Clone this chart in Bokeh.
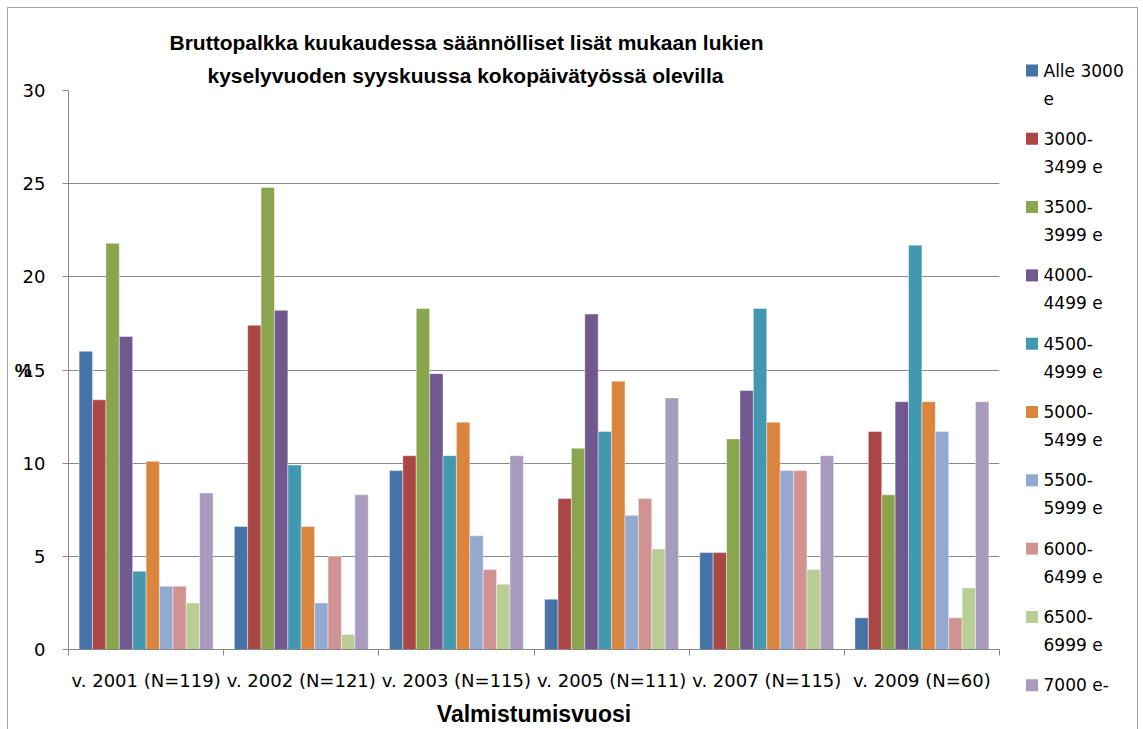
from bokeh.plotting import figure
from bokeh.layouts import row
from bokeh.models import (ColumnDataSource, FixedTicker, Title, Range1d,
                          InlineStyleSheet)
from bokeh.core.properties import value
from bokeh.transform import dodge
from bokeh.embed import file_html
from bokeh.resources import INLINE

categories = ["v. 2001 (N=119)", "v. 2002 (N=121)", "v. 2003 (N=115)",
              "v. 2005 (N=111)", "v. 2007 (N=115)", "v. 2009 (N=60)"]
series_names = ["Alle 3000\ne", "3000-\n3499 e", "3500-\n3999 e", "4000-\n4499 e",
                "4500-\n4999 e", "5000-\n5499 e", "5500-\n5999 e", "6000-\n6499 e",
                "6500-\n6999 e", "7000 e-"]
colors = ["#4572A7", "#AA4643", "#89A54E", "#71588F", "#4198AF",
          "#DB843D", "#93A9CF", "#D19392", "#B9CD96", "#A99BBD"]

alle_3000 = [16.0, 6.6, 9.6, 2.7, 5.2, 1.7]
s3000_3499 = [13.4, 17.4, 10.4, 8.1, 5.2, 11.7]
s3500_3999 = [21.8, 24.8, 18.3, 10.8, 11.3, 8.3]
s4000_4499 = [16.8, 18.2, 14.8, 18.0, 13.9, 13.3]
s4500_4999 = [4.2, 9.9, 10.4, 11.7, 18.3, 21.7]
s5000_5499 = [10.1, 6.6, 12.2, 14.4, 12.2, 13.3]
s5500_5999 = [3.4, 2.5, 6.1, 7.2, 9.6, 11.7]
s6000_6499 = [3.4, 5.0, 4.3, 8.1, 9.6, 1.7]
s6500_6999 = [2.5, 0.8, 3.5, 5.4, 4.3, 3.3]
s7000 = [8.4, 8.3, 10.4, 13.5, 10.4, 13.3]

series = [alle_3000, s3000_3499, s3500_3999, s4000_4499, s4500_4999,
          s5000_5499, s5500_5999, s6000_6499, s6500_6999, s7000]
keys = ["s%d" % j for j in range(len(series))]

data = {"x": [i + 0.5 for i in range(len(categories))]}
for k, s in zip(keys, series):
    data[k] = s
source = ColumnDataSource(data)

# ---------------- main chart ----------------
p = figure(width=1000, height=729, output_backend="svg", toolbar_location=None,
           x_range=(0, len(categories)), y_range=(0, 30),
           min_border_left=68, min_border_right=1, min_border_top=90,
           min_border_bottom=75, outline_line_color=None,
           border_fill_alpha=0, frame_align=False)

bw = 0.0863
for j, (k, c) in enumerate(zip(keys, colors)):
    p.vbar(x=dodge("x", (j - 4.5) * bw, range=p.x_range), top=k, width=bw,
           source=source, fill_color=c, line_color="white", line_width=0.7,
           line_alpha=0.6)

grid_color = "#888888"
p.xgrid.visible = False
p.ygrid.grid_line_color = grid_color
p.ygrid.ticker = FixedTicker(ticks=[0, 5, 10, 15, 20, 25, 30])

p.yaxis.ticker = FixedTicker(ticks=[0, 5, 10, 15, 20, 25, 30])
p.yaxis.axis_line_color = grid_color
p.yaxis.major_tick_line_color = grid_color
p.yaxis.major_tick_out = 6
p.yaxis.major_tick_in = 0
p.yaxis.minor_tick_line_color = None
p.yaxis.major_label_standoff = 17
p.yaxis.major_label_text_font = "DejaVu Sans"
p.yaxis.major_label_text_font_size = "18px"
p.yaxis.major_label_text_color = "#000000"
p.yaxis.axis_label = "%"
p.yaxis.axis_label_orientation = "horizontal"
p.yaxis.axis_label_standoff = -12
p.yaxis.axis_label_text_font = "Liberation Sans"
p.yaxis.axis_label_text_font_style = "bold"
p.yaxis.axis_label_text_font_size = "19px"
p.yaxis.axis_label_text_color = "#000000"

p.xaxis.ticker = FixedTicker(ticks=[i + 0.5 for i in range(len(categories))],
                             minor_ticks=list(range(len(categories) + 1)))
p.xaxis.major_label_overrides = {i + 0.5: c for i, c in enumerate(categories)}
p.xaxis.axis_line_color = grid_color
p.xaxis.major_tick_line_color = None
p.xaxis.minor_tick_line_color = grid_color
p.xaxis.minor_tick_out = 6
p.xaxis.minor_tick_in = 0
p.xaxis.major_tick_out = 6
p.xaxis.major_label_standoff = 14
p.xaxis.major_label_text_font = "DejaVu Sans"
p.xaxis.major_label_text_font_size = "18px"
p.xaxis.major_label_text_color = "#000000"
p.xaxis.axis_label = "Valmistumisvuosi"
p.xaxis.axis_label_text_font = "Liberation Sans"
p.xaxis.axis_label_text_font_style = "bold"
p.xaxis.axis_label_text_font_size = "23px"
p.xaxis.axis_label_text_color = "#000000"
p.xaxis.axis_label_standoff = 7

title_lines = [("kyselyvuoden syyskuussa kokopäivätyössä olevilla", 139),
               ("Bruttopalkka kuukaudessa säännölliset lisät mukaan lukien", 101)]
for txt, off in title_lines:
    p.add_layout(Title(text=txt, align="left", offset=off, standoff=8,
                       text_font="Liberation Sans", text_font_style="bold",
                       text_font_size="21px", text_color="#000000"), "above")

# ---------------- legend panel ----------------
leg_idx = list(range(len(series_names)))
leg_src = ColumnDataSource({"y": leg_idx, "name": series_names, "color": colors})
lf = figure(width=143, height=729, output_backend="svg", toolbar_location=None,
            x_range=Range1d(0, 143), y_range=Range1d(9.648, -1.025),
            x_axis_location=None, y_axis_location=None,
            min_border=0, outline_line_color=None, border_fill_alpha=0,
            background_fill_alpha=0, frame_align=False)
lf.grid.visible = False
lf.scatter(x=31.5, y="y", source=leg_src, marker="square", size=12,
           fill_color="color", line_color=None)
lf.text(x=43, y="y", text="name", source=leg_src, text_baseline="top",
        y_offset=-10, text_font=value("DejaVu Sans"), text_font_size="17px",
        text_line_height=1.4, text_color="#000000")

css = InlineStyleSheet(css="""
:host { position: relative; }
:host::after {
  content: ""; position: absolute; left: 7px; top: 7px; right: 5px; bottom: -20px;
  border: 1px solid #a6a6a6; pointer-events: none; z-index: 5;
}
""")
layout = row(p, lf, spacing=0, stylesheets=[css])

open("out.html", "w").write(file_html(layout, INLINE))
